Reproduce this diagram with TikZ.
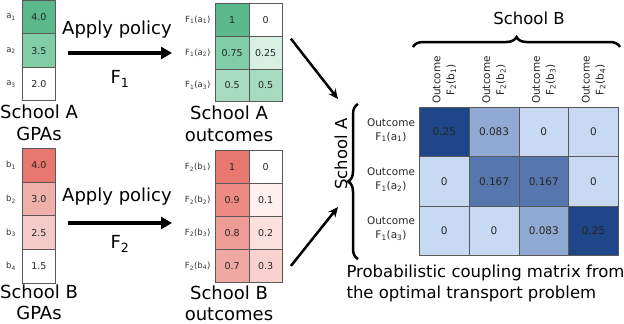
\documentclass[tikz,border=0pt]{standalone}
\usepackage{fontspec}
\setmainfont{DejaVu Sans}
\usetikzlibrary{arrows.meta,decorations.pathreplacing,calc}
\definecolor{grnA}{HTML}{5AB88A}
\definecolor{grnB}{HTML}{80CDA8}
\definecolor{grnC}{HTML}{A8DCC2}
\definecolor{grnD}{HTML}{D8EFE4}
\definecolor{redA}{HTML}{E8776F}
\definecolor{redB}{HTML}{F0B0AA}
\definecolor{redC}{HTML}{F5CBC7}
\definecolor{redD}{HTML}{EC8A83}
\definecolor{redE}{HTML}{EE9C95}
\definecolor{redF}{HTML}{F0A8A2}
\definecolor{redG}{HTML}{FDF0EE}
\definecolor{redH}{HTML}{FBE0DD}
\definecolor{redI}{HTML}{F8D2CE}
\definecolor{bluA}{HTML}{C8DAF3}
\definecolor{bluB}{HTML}{91AAD3}
\definecolor{bluC}{HTML}{5677AE}
\definecolor{bluD}{HTML}{1F4688}

\begin{document}
\begin{tikzpicture}
    [x=1pt,y=-1pt,
    cell/.style={draw=black!65, line width=0.9pt, anchor=north west, inner sep=0pt, text=black!85, font=\fontsize{9.5}{10}\selectfont},
    gpa/.style={cell, minimum width=33pt, minimum height=33.6pt},
    outc/.style={cell, minimum width=33.5pt, minimum height=32.8pt},
    cpl/.style={cell, minimum width=49.75pt, minimum height=49.3pt, font=\fontsize{10.5}{11}\selectfont},
    big/.style={font=\fontsize{18}{22}\selectfont, align=center},
    mid/.style={font=\fontsize{16.5}{21}\selectfont, align=center},
    tiny/.style={font=\fontsize{8.5}{9}\selectfont, text=black!80},
    small/.style={font=\fontsize{10.5}{14}\selectfont, align=center, text=black!85},
    policy/.style={-{Triangle[length=11pt,width=12pt]}, line width=4pt},
    feed/.style={-{Stealth[length=10pt,width=9pt]}, line width=2.5pt},
    brc/.style={decorate, decoration={brace, amplitude=10pt}, line width=2.5pt}]
    \useasboundingbox (0,0) rectangle (624,324);
    % GPA columns
    \foreach \v/\c [count=\i] in {4.0/grnA, 3.5/grnB, 2.0/white}{
        \node[gpa, fill=\c] (gA\i) at (22,{(\i-1)*33.3}) {\v};
        \node[tiny] (la\i) at ($(gA\i.west)+(-11,0)$) {a\textsubscript{\i}};
    }
    \foreach \v/\c [count=\i] in {4.0/redA, 3.0/redB, 2.5/redC, 1.5/white}{
        \node[gpa, fill=\c] (gB\i) at (22,{148+(\i-1)*33.7}) {\v};
        \node[tiny] (lb\i) at ($(gB\i.west)+(-11,0)$) {b\textsubscript{\i}};
    }
    \node[big] (tgA) at (39,123) {School A\\GPAs};
    \node[big, font=\fontsize{18}{21}\selectfont] (tgB) at (39,302) {School B\\GPAs};
    % outcome matrices
    \foreach \p/\q/\cp/\cq [count=\i] in {1/0/grnA/white, 0.75/0.25/grnB/grnD, 0.5/0.5/grnC/grnC}{
        \node[outc, fill=\cp] (oA\i1) at (215,{3+(\i-1)*32.8}) {\p};
        \node[outc, fill=\cq] (oA\i2) at (248.5,{3+(\i-1)*32.8}) {\q};
        \node[tiny, anchor=east] (fa\i) at ($(oA\i1.west)+(-1,0)$) {F\textsubscript{1}(a\textsubscript{\i})};
    }
    \foreach \p/\q/\cp/\cq [count=\i] in {1/0/redA/white, 0.9/0.1/redD/redG, 0.8/0.2/redE/redH, 0.7/0.3/redF/redI}{
        \node[outc, fill=\cp, minimum height=33pt] (oB\i1) at (215,{150+(\i-1)*33}) {\p};
        \node[outc, fill=\cq, minimum height=33pt] (oB\i2) at (248.5,{150+(\i-1)*33}) {\q};
        \node[tiny, anchor=east] (fb\i) at ($(oB\i1.west)+(-1,0)$) {F\textsubscript{2}(b\textsubscript{\i})};
    }
    \node[big] (toA) at (229,124) {School A\\outcomes};
    \node[big, font=\fontsize{18}{21}\selectfont] (toB) at (229,303) {School B\\outcomes};
    % apply policy
    \node[big] (apA) at (117,30) {Apply policy};
    \node[big] (apB) at (117,197) {Apply policy};
    \node[big] (fA) at (120,79) {F\textsubscript{1}};
    \node[big] (fB) at (120,244) {F\textsubscript{2}};
    \coordinate (pA0) at (68,53);
    \coordinate (pA1) at (172,53);
    \coordinate (pB0) at (68,223);
    \coordinate (pB1) at (172,223);
    \draw[policy] (pA0) -- (pA1);
    \draw[policy] (pB0) -- (pB1);
    % coupling matrix
    \foreach \v/\c [count=\j] in {0.25/bluD, 0.083/bluB, 0/bluA, 0/bluA}
        \node[cpl, fill=\c] (m1\j) at ({419+(\j-1)*49.75},107) {\v};
    \foreach \v/\c [count=\j] in {0/bluA, 0.167/bluC, 0.167/bluC, 0/bluA}
        \node[cpl, fill=\c] (m2\j) at ({419+(\j-1)*49.75},156.3) {\v};
    \foreach \v/\c [count=\j] in {0/bluA, 0/bluA, 0.083/bluB, 0.25/bluD}
        \node[cpl, fill=\c] (m3\j) at ({419+(\j-1)*49.75},205.6) {\v};
    \foreach \j in {1,...,4}
        \node[small, rotate=90] (hb\j) at ($(m1\j.north)+(0,-27)$) {Outcome\\F\textsubscript{2}(b\textsubscript{\j})};
    \foreach \i in {1,2,3}
        \node[small] (ha\i) at ($(m\i1.west)+(-28,-2)$) {Outcome\\F\textsubscript{1}(a\textsubscript{\i})};
    \coordinate (bt0) at (413,47);
    \coordinate (bt1) at (620,47);
    \coordinate (bl0) at (358,259);
    \coordinate (bl1) at (358,104);
    \draw[brc] (bt0) -- (bt1);
    \draw[brc] (bl0) -- (bl1);
    \node[mid] (sB) at (529,18) {School B};
    \node[mid, rotate=90] (sA) at (341,154) {School A};
    \node[mid, align=left, anchor=west] (cap) at (343,283) {Probabilistic coupling matrix from\\the optimal transport problem};
    % feeding arrows
    \coordinate (cA) at (338,99);
    \coordinate (cB) at (338,207);
    \draw[feed] ($(oA12.south east)+(8,2)$) -- (cA);
    \draw[feed] ($(oB42.east)+(8,0)$) -- (cB);
\end{tikzpicture}
\end{document}
